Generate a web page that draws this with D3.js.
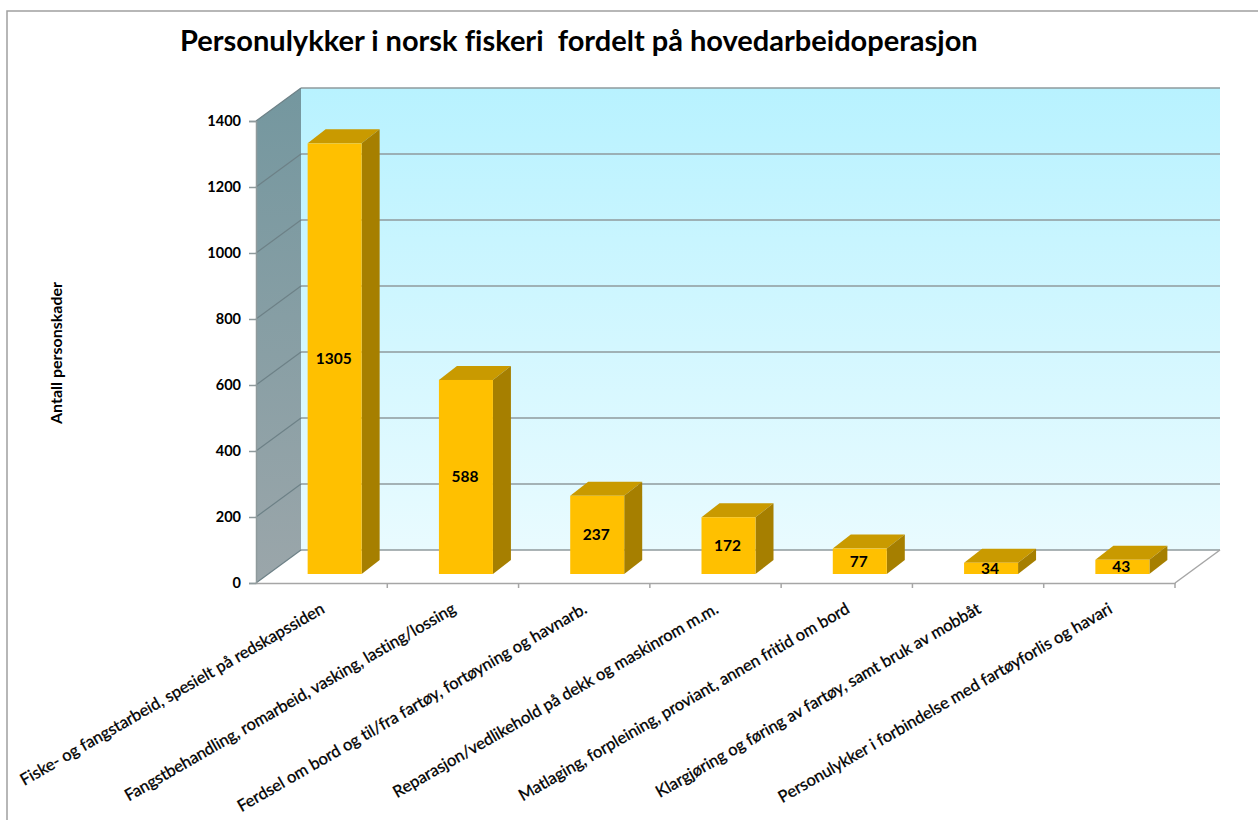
<!DOCTYPE html>
<html>
<head>
<meta charset="utf-8">
<script src="https://d3js.org/d3.v7.min.js"></script>
<style>
  html, body { margin: 0; padding: 0; background: #fff; }
  svg { display: block; }
  text { font-family: Lato, "Open Sans", sans-serif; fill: #000; font-variant-ligatures: none; }
</style>
</head>
<body>
<div id="chart"></div>
<script>
// Chart data
var categories = [
  "Fiske- og fangstarbeid, spesielt på redskapssiden",
  "Fangstbehandling, romarbeid, vasking, lasting/lossing",
  "Ferdsel om bord og til/fra fartøy, fortøyning og havnarb.",
  "Reparasjon/vedlikehold på dekk og maskinrom m.m.",
  "Matlaging, forpleining, proviant, annen fritid om bord",
  "Klargjøring og føring av fartøy, samt bruk av mobbåt",
  "Personulykker i forbindelse med fartøyforlis og havari"
];
var values = [1305, 588, 237, 172, 77, 34, 43];
var yTicks = [0, 200, 400, 600, 800, 1000, 1200, 1400];

var svgWidth = 1258;
var svgHeight = 820;

// front plane of the 3d box
var x0 = 256, x1 = 1175, yBase = 583, yTop = 121;
// depth of the box, back wall is shifted by this
var depthX = 45, depthY = -33;

var svg = d3.select("#chart").append("svg")
  .attr("width", svgWidth)
  .attr("height", svgHeight);

var defs = svg.append("defs");

function vGradient(id, top, bottom) {
  var g = defs.append("linearGradient")
    .attr("id", id)
    .attr("x1", 0).attr("y1", 0).attr("x2", 0).attr("y2", 1);
  g.append("stop").attr("offset", "0%").attr("stop-color", top);
  g.append("stop").attr("offset", "100%").attr("stop-color", bottom);
}
vGradient("wallGrad", "#b8f2ff", "#e9fbff");
vGradient("sideGrad", "#74979f", "#9ba6aa");

var xScale = d3.scaleBand()
  .domain(categories)
  .range([x0, x1]);

var yScale = d3.scaleLinear()
  .domain([0, 1400])
  .range([yBase, yTop]);

// page frame
svg.append("path")
  .attr("d", "M7,820V11H1258")
  .attr("fill", "none")
  .attr("stroke", "#a0a0a0")
  .attr("stroke-width", 1.5);

// back wall
svg.append("rect")
  .attr("x", x0 + depthX)
  .attr("y", yTop + depthY)
  .attr("width", x1 - x0)
  .attr("height", yBase - yTop)
  .attr("fill", "url(#wallGrad)");

// left wall
svg.append("path")
  .attr("d", d3.line()([
    [x0, yBase], [x0, yTop], [x0 + depthX, yTop + depthY], [x0 + depthX, yBase + depthY]
  ]))
  .attr("fill", "url(#sideGrad)");

// gridlines on the back wall
svg.append("g")
  .selectAll("line")
  .data(yTicks)
  .enter()
  .append("line")
  .attr("x1", x0 + depthX)
  .attr("x2", x1 + depthX)
  .attr("y1", d => yScale(d) + depthY)
  .attr("y2", d => yScale(d) + depthY)
  .attr("stroke", "#8f9a9c")
  .attr("stroke-width", 1.5);

// same gridlines running down the left wall, a bit darker there
svg.append("g")
  .selectAll("line")
  .data(yTicks)
  .enter()
  .append("line")
  .attr("x1", x0)
  .attr("x2", x0 + depthX)
  .attr("y1", d => yScale(d))
  .attr("y2", d => yScale(d) + depthY)
  .attr("stroke", "#6d8187")
  .attr("stroke-width", 1.2);

// floor edge on the right
svg.append("path")
  .attr("d", d3.line()([[x1, yBase], [x1 + depthX, yBase + depthY]]))
  .attr("fill", "none")
  .attr("stroke", "#a6a6a6")
  .attr("stroke-width", 1.5);

// Axes
var leftAxis = d3.axisLeft(yScale)
  .tickValues(yTicks)
  .tickFormat(d3.format("d"))
  .tickSize(7)
  .tickPadding(8);

var yAxis = svg.append("g")
  .attr("transform", "translate(" + x0 + ",0)")
  .call(leftAxis);
yAxis.select(".domain").attr("stroke", "#8f9a9c").attr("stroke-width", 1.5);
yAxis.selectAll(".tick line").attr("stroke", "#8f9a9c").attr("stroke-width", 1.5);
yAxis.selectAll("text")
  .attr("font-size", 14.5)
  .attr("font-weight", 700)
  .style("font-family", "Lato, sans-serif");

var bottomAxis = d3.axisBottom(xScale)
  .tickSize(0)
  .tickFormat("");

var xAxis = svg.append("g")
  .attr("transform", "translate(0," + yBase + ")")
  .call(bottomAxis);
xAxis.select(".domain").attr("stroke", "#a6a6a6").attr("stroke-width", 1.5);

// tick marks sit between the categories
svg.append("g")
  .selectAll("line")
  .data(categories)
  .enter()
  .append("line")
  .attr("x1", d => xScale(d) + xScale.bandwidth())
  .attr("x2", d => xScale(d) + xScale.bandwidth())
  .attr("y1", yBase)
  .attr("y2", yBase + 5)
  .attr("stroke", "#a6a6a6")
  .attr("stroke-width", 1.5);

// Bars
var barWidth = 54, barDx = 18, barDy = -14;
var barShiftX = 13, barShiftY = -9;

var bars = svg.append("g")
  .selectAll("g")
  .data(values)
  .enter()
  .append("g")
  .attr("transform", function (d, i) {
    var cx = xScale(categories[i]) + xScale.bandwidth() / 2 + barShiftX;
    return "translate(" + (cx - barWidth / 2) + "," + barShiftY + ")";
  });

bars.append("path")
  .attr("fill", "#c99a00")
  .attr("d", d => d3.line()([
    [0, yScale(d)], [barDx, yScale(d) + barDy],
    [barWidth + barDx, yScale(d) + barDy], [barWidth, yScale(d)]
  ]));

bars.append("path")
  .attr("fill", "#a67f00")
  .attr("d", d => d3.line()([
    [barWidth, yScale(d)], [barWidth + barDx, yScale(d) + barDy],
    [barWidth + barDx, yBase + barDy], [barWidth, yBase]
  ]));

bars.append("rect")
  .attr("fill", "#ffc000")
  .attr("x", 0)
  .attr("y", d => yScale(d))
  .attr("width", barWidth)
  .attr("height", d => yBase - yScale(d));

bars.append("text")
  .attr("x", barWidth / 2 - 1)
  .attr("y", d => (yScale(d) + yBase) / 2)
  .attr("dy", "0.35em")
  .attr("text-anchor", "middle")
  .attr("font-size", 15.5)
  .attr("font-weight", 700)
  .text(d => d);

// Category labels, rotated and ending under the bar
svg.append("g")
  .selectAll("text")
  .data(categories)
  .enter()
  .append("text")
  .attr("transform", function (d) {
    var cx = xScale(d) + xScale.bandwidth() / 2;
    return "translate(" + (cx + 4) + ",612) rotate(-30)";
  })
  .attr("text-anchor", "end")
  .attr("font-size", 16.4)
  .attr("stroke", "#000")
  .attr("stroke-width", 0.3)
  .text(d => d);

// Title
svg.append("text")
  .attr("x", 180)
  .attr("y", 51)
  .attr("font-size", 29)
  .attr("font-weight", 700)
  .style("white-space", "pre")
  .text("Personulykker i norsk fiskeri  fordelt på hovedarbeidoperasjon");

// Y axis label
svg.append("text")
  .attr("transform", "translate(62,353) rotate(-90)")
  .attr("text-anchor", "middle")
  .attr("font-size", 16)
  .attr("font-weight", 700)
  .text("Antall personskader");
</script>
</body>
</html>
